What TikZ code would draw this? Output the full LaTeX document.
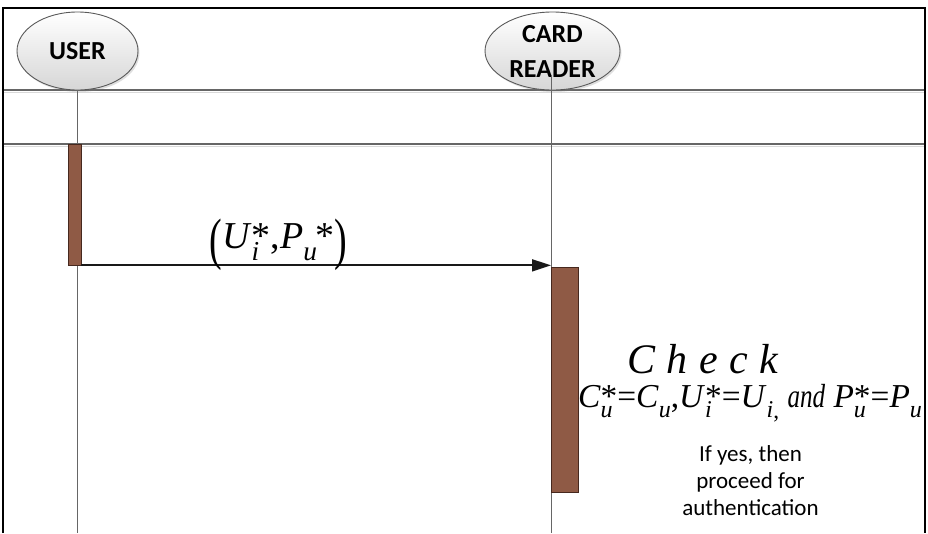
\documentclass[tikz,border=0pt]{standalone}
\usepackage{fontspec}
\setmainfont{Liberation Serif}
\newfontfamily\calib{Carlito}
\usetikzlibrary{arrows.meta,shapes.geometric,shadows}
\definecolor{barbrown}{RGB}{143,90,69}
\definecolor{bardark}{RGB}{70,40,30}
\newcommand{\lsubs}[2]{\textit{#1}\rlap{\raisebox{-0.32em}{\scalebox{0.72}{\textit{#2}}}}}
\newcommand{\lsub}[2]{\textit{#1}\raisebox{-0.32em}{\scalebox{0.72}{\textit{#2}}}}
\newcommand{\bigparen}[1]{\raisebox{-0.28em}{\scalebox{1}[1.5]{#1}}}
\begin{document}
\begin{tikzpicture}[x=1pt,y=-1pt,
  actor/.style={ellipse, draw=black!65, line width=0.9pt, top color=white, bottom color=black!16,
    inner sep=0pt, minimum width=#1, minimum height=78pt, align=center,
    font=\calib\bfseries\fontsize{26}{35}\selectfont,
    drop shadow={opacity=0.25, shadow xshift=1.5pt, shadow yshift=-2pt}},
  hline/.style={draw=black!60, line width=1.1pt},
  hshadow/.style={draw=black!15, line width=1.5pt},
  lifeline/.style={draw=black!60, line width=0.7pt},
  actbar/.style={draw=bardark, fill=barbrown, line width=0.7pt, minimum width=#1, inner sep=0pt},
  msg/.style={draw=black!90, line width=1.8pt, -{Triangle[length=19pt,width=12pt]}},
  note/.style={align=center, font=\calib\fontsize{23}{27}\selectfont}
]
\useasboundingbox (0,0) rectangle (928,533);
% frame
\draw[black, line width=1.3pt] (3,533) -- (3,8) -- (925,8) -- (925,533);
% horizontal rules
\draw[hshadow] (4,92.5) -- (924,92.5);
\draw[hline] (4,90) -- (924,90);
\draw[hshadow] (4,146.5) -- (924,146.5);
\draw[hline] (4,144) -- (924,144);
% lifelines
\coordinate (ultop) at (77,90);
\coordinate (ulbot) at (77,533);
\coordinate (crtop) at (551,75);
\coordinate (crbot) at (551,533);
\draw[lifeline] (ultop) -- (ulbot);
% actors
\node[actor=121pt] (user) at (77.5,51) {USER};
\node[actor=135pt] (cr) at (552.5,51) {CARD\\READER};
\draw[lifeline] (crtop) -- (crbot);
% activation bars
\node[actbar=13pt, minimum height=121pt] (ubar) at (74.5,204.5) {};
\node[actbar=27pt, minimum height=225pt] (cbar) at (564.5,379.5) {};
% message
\draw[msg] (ubar.south east) -- (ubar.south east -| crtop);
\node[anchor=base, inner sep=0pt, font=\fontsize{38}{40}\selectfont] (lbl) at (278.5,248)
  {\bigparen{(}\lsubs{U}{i}*,\lsubs{P}{u}\,\,*\bigparen{)}};
% check text
\node[anchor=base, inner sep=0pt, font=\fontsize{42}{42}\selectfont\itshape] (chk) at (702.5,373)
  {C\kern0.27em h\kern0.27em e\kern0.27em c\kern0.27em k};
\node[anchor=base, inner sep=0pt] (eq) at (750,407)
  {\resizebox{344pt}{!}{\fontsize{38}{40}\selectfont\lsubs{C}{u}*=\lsub{C}{u},\lsubs{U}{i}*=\lsub{U}{i}\raisebox{-0.35em}{\scalebox{0.7}{,}}\ \scalebox{0.75}[1]{\textit{and}}\ \lsubs{P}{u}*=\lsub{P}{u}}};
\node[note, anchor=north] (res) at (750.5,442) {If yes, then\\proceed for\\authentication};
\end{tikzpicture}
\end{document}
